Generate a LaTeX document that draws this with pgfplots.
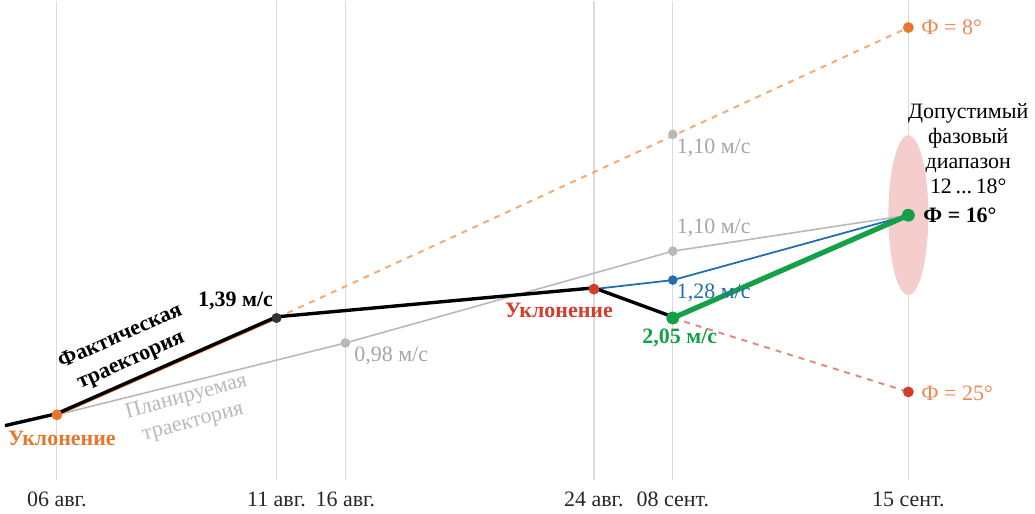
\documentclass[border=0pt]{standalone}
\usepackage{fontspec}
\setmainfont{Liberation Serif}
\usepackage{pgfplots}
\pgfplotsset{compat=1.18}

\definecolor{gridgray}{RGB}{218,218,218}
\definecolor{lgray}{RGB}{185,185,185}
\definecolor{tgray}{RGB}{165,165,165}
\definecolor{dorange}{RGB}{230,120,45}
\definecolor{lorange}{RGB}{245,170,120}
\definecolor{torange}{RGB}{238,135,80}
\definecolor{dred}{RGB}{212,60,45}
\definecolor{lred}{RGB}{225,140,125}
\definecolor{dblue}{RGB}{35,110,175}
\definecolor{dgreen}{RGB}{20,160,70}
\definecolor{pinkzone}{RGB}{246,205,205}

\begin{document}
\begin{tikzpicture}
\begin{axis}[
  width=517.5pt, height=240pt, scale only axis,
  xmin=0, xmax=1035, ymin=34, ymax=514,
  hide y axis,
  axis x line*=bottom,
  x axis line style={draw=none},
  xtick={57,277,346,595,674,910},
  xticklabels={06 авг.,11 авг.,16 авг.,24 авг.,08 сент.,15 сент.},
  major tick length=0pt,
  tick style={draw=none},
  tick label style={font=\fontsize{11}{13}\selectfont, text=black!85},
  xticklabel style={yshift=-2.5pt},
  clip=false,
]
% keep page the reference's proportions
\path (axis cs:0,0) rectangle (axis cs:1035,514);

% date lines
\addplot[gridgray, line width=0.6pt] coordinates {
  (57,34) (57,514)

  (277,34) (277,514)

  (346,34) (346,514)

  (595,34) (595,514)

  (674,34) (674,514)

  (910,34) (910,514)
};

% admissible phase range
\fill[pinkzone] (axis cs:910,299) ellipse [x radius=10pt, y radius=40pt];

% planned trajectory
\addplot[lgray, line width=0.8pt] coordinates {
  (57,99) (346,171) (674,263) (910,299)
};
\addplot[only marks, mark=*, mark size=2.2pt, lgray] coordinates {
  (346,171) (674,263)
};

% orange extrapolation
\addplot[dorange, line width=1.4pt] coordinates {(57,99) (277,196)};
\addplot[lorange, line width=1pt, dashed] coordinates {(277,196) (910,487)};
\addplot[only marks, mark=*, mark size=2.2pt, lgray] coordinates {(674,380)};

% red extrapolation
\addplot[lred, line width=1pt, dashed] coordinates {(674,196) (910,122)};

% blue correction
\addplot[dblue, line width=0.9pt] coordinates {(595,225) (674,234) (910,299)};
\addplot[only marks, mark=*, mark size=2.2pt, dblue] coordinates {(674,234)};

% actual trajectory
\addplot[black, line width=1.7pt, yshift=0.6pt] coordinates {
  (5,87) (57,99) (277,196) (595,225) (674,196)
};

% green correction
\addplot[dgreen, line width=2.6pt] coordinates {(674,196) (910,299)};

% points
\addplot[only marks, mark=*, mark size=2.5pt, dorange] coordinates {(57,99) (910,487)};
\addplot[only marks, mark=*, mark size=2.3pt, black!80] coordinates {(277,196)};
\addplot[only marks, mark=*, mark size=2.5pt, dred] coordinates {(595,225) (910,122)};
\addplot[only marks, mark=*, mark size=3pt, dgreen] coordinates {(674,196) (910,299)};

% labels
\node[font=\bfseries\fontsize{11}{13}\selectfont, rotate=24, align=center]
  at (axis cs:126,165) {Фактическая\\траектория};
\node[text=lgray, rotate=15, align=center, font=\fontsize{11}{13}\selectfont]
  at (axis cs:190,104) {Планируемая\\траектория};
\node[font=\bfseries\fontsize{11}{13}\selectfont, text=dorange] at (axis cs:62,75) {Уклонение};
\node[font=\bfseries\fontsize{11}{13}\selectfont] at (axis cs:236,213) {1,39 м/с};
\node[anchor=west, text=tgray, font=\fontsize{11}{13}\selectfont] at (axis cs:348,158) {0,98 м/с};
\node[font=\bfseries\fontsize{11}{13}\selectfont, text=dred] at (axis cs:560,204) {Уклонение};
\node[anchor=west, text=tgray, font=\fontsize{11}{13}\selectfont] at (axis cs:671,366) {1,10 м/с};
\node[anchor=west, text=tgray, font=\fontsize{11}{13}\selectfont] at (axis cs:671,286) {1,10 м/с};
\node[anchor=west, text=dblue, font=\fontsize{11}{13}\selectfont] at (axis cs:671,221) {1,28 м/с};
\node[font=\bfseries\fontsize{11}{13}\selectfont, text=dgreen] at (axis cs:681,176) {2,05 м/с};
\node[anchor=west, text=torange, font=\fontsize{11}{13}\selectfont] at (axis cs:916,487) {Ф = 8°};
\node[anchor=west, font=\bfseries\fontsize{11}{13}\selectfont] at (axis cs:918,299) {Ф = 16°};
\node[anchor=west, text=torange, font=\fontsize{11}{13}\selectfont] at (axis cs:916,121) {Ф = 25°};
\node[align=center, font=\fontsize{11}{12.5}\selectfont] at (axis cs:970,366)
  {Допустимый\\фазовый\\диапазон\\12\,...\,18°};
\end{axis}
\end{tikzpicture}
\end{document}
